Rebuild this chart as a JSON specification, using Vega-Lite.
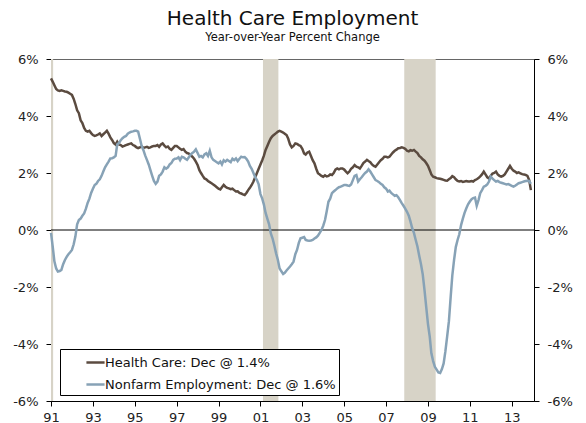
{
"$schema": "https://vega.github.io/schema/vega-lite/v6.json",
"width": 483, "height": 342,
"autosize": {"type": "none"},
"padding": {"left": 51, "top": 59, "right": 52, "bottom": 22},
"background": "white",
"title": {"text": "Health Care Employment", "subtitle": "Year-over-Year Percent Change", "font": "DejaVu Sans", "fontSize": 20, "fontWeight": "normal", "color": "#111", "subtitleFont": "DejaVu Sans", "subtitleFontSize": 11.5, "subtitleColor": "#111", "anchor": "middle", "offset": 10, "subtitlePadding": 3},
"config": {
  "font": "DejaVu Sans",
  "view": {"stroke": "#666", "strokeWidth": 1},
  "axis": {"grid": false, "domainColor": "#000", "tickColor": "#000", "labelColor": "#222", "labelFontSize": 13, "labelFont": "DejaVu Sans", "title": null},
  "legend": {"orient": "none", "legendX": 9, "legendY": 290, "strokeColor": "#000", "fillColor": "white", "padding": 3, "symbolType": "stroke", "symbolStrokeWidth": 2.5, "symbolSize": 330, "symbolOffset": 22, "labelOffset": -1, "labelFontSize": 13, "labelFont": "DejaVu Sans", "labelColor": "#111", "labelLimit": 400, "rowPadding": 4, "title": null}
},
"datasets": {
"rec": [{"s": "1991-01-01", "e": "1991-02-07"}, {"s": "2001-02-14", "e": "2001-11-10"}, {"s": "2007-11-14", "e": "2009-05-15"}],
"emp": [
{"d":"1991-01","h":5.32,"n":-0.1},{"d":"1991-02","h":5.2,"n":-0.6},{"d":"1991-03","h":5.08,"n":-1.1},{"d":"1991-04","h":4.95,"n":-1.35},{"d":"1991-05","h":4.9,"n":-1.46},{"d":"1991-06","h":4.88,"n":-1.44},{"d":"1991-07","h":4.9,"n":-1.4},{"d":"1991-08","h":4.88,"n":-1.2},{"d":"1991-09","h":4.86,"n":-1.05},{"d":"1991-10","h":4.85,"n":-0.94},{"d":"1991-11","h":4.82,"n":-0.85},{"d":"1991-12","h":4.78,"n":-0.78},
{"d":"1992-01","h":4.74,"n":-0.7},{"d":"1992-02","h":4.6,"n":-0.5},{"d":"1992-03","h":4.42,"n":-0.23},{"d":"1992-04","h":4.2,"n":0.2},{"d":"1992-05","h":4.1,"n":0.35},{"d":"1992-06","h":3.85,"n":0.4},{"d":"1992-07","h":3.75,"n":0.5},{"d":"1992-08","h":3.58,"n":0.58},{"d":"1992-09","h":3.48,"n":0.75},{"d":"1992-10","h":3.45,"n":0.95},{"d":"1992-11","h":3.48,"n":1.1},{"d":"1992-12","h":3.4,"n":1.3},
{"d":"1993-01","h":3.33,"n":1.45},{"d":"1993-02","h":3.3,"n":1.58},{"d":"1993-03","h":3.32,"n":1.62},{"d":"1993-04","h":3.35,"n":1.72},{"d":"1993-05","h":3.39,"n":1.78},{"d":"1993-06","h":3.3,"n":1.9},{"d":"1993-07","h":3.36,"n":2.05},{"d":"1993-08","h":3.42,"n":2.2},{"d":"1993-09","h":3.48,"n":2.3},{"d":"1993-10","h":3.38,"n":2.4},{"d":"1993-11","h":3.25,"n":2.51},{"d":"1993-12","h":3.16,"n":2.52},
{"d":"1994-01","h":3.05,"n":2.55},{"d":"1994-02","h":3.0,"n":2.6},{"d":"1994-03","h":3.1,"n":3.0},{"d":"1994-04","h":3.0,"n":3.05},{"d":"1994-05","h":2.98,"n":3.15},{"d":"1994-06","h":2.93,"n":3.22},{"d":"1994-07","h":2.95,"n":3.27},{"d":"1994-08","h":2.98,"n":3.3},{"d":"1994-09","h":3.0,"n":3.38},{"d":"1994-10","h":3.02,"n":3.42},{"d":"1994-11","h":3.04,"n":3.45},{"d":"1994-12","h":2.98,"n":3.46},
{"d":"1995-01","h":2.95,"n":3.48},{"d":"1995-02","h":2.9,"n":3.48},{"d":"1995-03","h":2.87,"n":3.45},{"d":"1995-04","h":2.9,"n":3.2},{"d":"1995-05","h":2.93,"n":2.95},{"d":"1995-06","h":2.88,"n":2.8},{"d":"1995-07","h":2.9,"n":2.62},{"d":"1995-08","h":2.92,"n":2.46},{"d":"1995-09","h":2.88,"n":2.3},{"d":"1995-10","h":2.9,"n":2.1},{"d":"1995-11","h":2.93,"n":1.9},{"d":"1995-12","h":2.95,"n":1.72},
{"d":"1996-01","h":2.95,"n":1.62},{"d":"1996-02","h":2.98,"n":1.7},{"d":"1996-03","h":2.92,"n":1.9},{"d":"1996-04","h":3.0,"n":1.95},{"d":"1996-05","h":3.04,"n":2.05},{"d":"1996-06","h":2.96,"n":2.2},{"d":"1996-07","h":2.9,"n":2.15},{"d":"1996-08","h":2.93,"n":2.2},{"d":"1996-09","h":2.85,"n":2.3},{"d":"1996-10","h":2.81,"n":2.35},{"d":"1996-11","h":2.88,"n":2.46},{"d":"1996-12","h":2.95,"n":2.5},
{"d":"1997-01","h":2.95,"n":2.51},{"d":"1997-02","h":2.9,"n":2.55},{"d":"1997-03","h":2.85,"n":2.45},{"d":"1997-04","h":2.81,"n":2.57},{"d":"1997-05","h":2.84,"n":2.55},{"d":"1997-06","h":2.75,"n":2.5},{"d":"1997-07","h":2.7,"n":2.46},{"d":"1997-08","h":2.68,"n":2.55},{"d":"1997-09","h":2.62,"n":2.65},{"d":"1997-10","h":2.57,"n":2.7},{"d":"1997-11","h":2.5,"n":2.75},{"d":"1997-12","h":2.4,"n":2.83},
{"d":"1998-01","h":2.28,"n":2.7},{"d":"1998-02","h":2.1,"n":2.57},{"d":"1998-03","h":2.0,"n":2.6},{"d":"1998-04","h":1.9,"n":2.55},{"d":"1998-05","h":1.81,"n":2.65},{"d":"1998-06","h":1.78,"n":2.69},{"d":"1998-07","h":1.72,"n":2.6},{"d":"1998-08","h":1.68,"n":2.78},{"d":"1998-09","h":1.64,"n":2.55},{"d":"1998-10","h":1.6,"n":2.46},{"d":"1998-11","h":1.55,"n":2.42},{"d":"1998-12","h":1.5,"n":2.38},
{"d":"1999-01","h":1.45,"n":2.34},{"d":"1999-02","h":1.42,"n":2.4},{"d":"1999-03","h":1.5,"n":2.3},{"d":"1999-04","h":1.58,"n":2.45},{"d":"1999-05","h":1.52,"n":2.4},{"d":"1999-06","h":1.48,"n":2.46},{"d":"1999-07","h":1.46,"n":2.42},{"d":"1999-08","h":1.43,"n":2.38},{"d":"1999-09","h":1.45,"n":2.5},{"d":"1999-10","h":1.4,"n":2.45},{"d":"1999-11","h":1.35,"n":2.51},{"d":"1999-12","h":1.36,"n":2.42},
{"d":"2000-01","h":1.3,"n":2.5},{"d":"2000-02","h":1.28,"n":2.57},{"d":"2000-03","h":1.25,"n":2.55},{"d":"2000-04","h":1.23,"n":2.56},{"d":"2000-05","h":1.3,"n":2.5},{"d":"2000-06","h":1.4,"n":2.4},{"d":"2000-07","h":1.48,"n":2.25},{"d":"2000-08","h":1.58,"n":2.15},{"d":"2000-09","h":1.7,"n":2.0},{"d":"2000-10","h":1.85,"n":1.85},{"d":"2000-11","h":2.0,"n":1.75},{"d":"2000-12","h":2.15,"n":1.6},
{"d":"2001-01","h":2.3,"n":1.26},{"d":"2001-02","h":2.45,"n":1.1},{"d":"2001-03","h":2.6,"n":0.9},{"d":"2001-04","h":2.81,"n":0.6},{"d":"2001-05","h":2.95,"n":0.4},{"d":"2001-06","h":3.1,"n":0.2},{"d":"2001-07","h":3.22,"n":-0.12},{"d":"2001-08","h":3.3,"n":-0.3},{"d":"2001-09","h":3.35,"n":-0.55},{"d":"2001-10","h":3.4,"n":-0.82},{"d":"2001-11","h":3.45,"n":-1.05},{"d":"2001-12","h":3.48,"n":-1.35},
{"d":"2002-01","h":3.45,"n":-1.45},{"d":"2002-02","h":3.42,"n":-1.54},{"d":"2002-03","h":3.38,"n":-1.5},{"d":"2002-04","h":3.33,"n":-1.42},{"d":"2002-05","h":3.2,"n":-1.35},{"d":"2002-06","h":3.0,"n":-1.28},{"d":"2002-07","h":2.9,"n":-1.2},{"d":"2002-08","h":2.95,"n":-1.11},{"d":"2002-09","h":3.04,"n":-0.85},{"d":"2002-10","h":3.02,"n":-0.7},{"d":"2002-11","h":2.98,"n":-0.45},{"d":"2002-12","h":2.95,"n":-0.29},
{"d":"2003-01","h":2.85,"n":-0.27},{"d":"2003-02","h":2.69,"n":-0.25},{"d":"2003-03","h":2.65,"n":-0.35},{"d":"2003-04","h":2.72,"n":-0.37},{"d":"2003-05","h":2.75,"n":-0.38},{"d":"2003-06","h":2.6,"n":-0.37},{"d":"2003-07","h":2.45,"n":-0.35},{"d":"2003-08","h":2.34,"n":-0.3},{"d":"2003-09","h":2.15,"n":-0.26},{"d":"2003-10","h":1.99,"n":-0.2},{"d":"2003-11","h":1.95,"n":-0.1},{"d":"2003-12","h":1.9,"n":0.0},
{"d":"2004-01","h":1.87,"n":0.15},{"d":"2004-02","h":1.92,"n":0.35},{"d":"2004-03","h":1.88,"n":0.65},{"d":"2004-04","h":1.9,"n":0.99},{"d":"2004-05","h":1.95,"n":1.1},{"d":"2004-06","h":1.93,"n":1.29},{"d":"2004-07","h":2.0,"n":1.35},{"d":"2004-08","h":2.12,"n":1.4},{"d":"2004-09","h":2.16,"n":1.46},{"d":"2004-10","h":2.13,"n":1.5},{"d":"2004-11","h":2.16,"n":1.52},{"d":"2004-12","h":2.16,"n":1.55},
{"d":"2005-01","h":2.12,"n":1.58},{"d":"2005-02","h":2.05,"n":1.58},{"d":"2005-03","h":1.99,"n":1.56},{"d":"2005-04","h":2.05,"n":1.55},{"d":"2005-05","h":2.15,"n":1.6},{"d":"2005-06","h":2.2,"n":1.75},{"d":"2005-07","h":2.28,"n":1.9},{"d":"2005-08","h":2.22,"n":1.93},{"d":"2005-09","h":2.2,"n":1.7},{"d":"2005-10","h":2.16,"n":1.78},{"d":"2005-11","h":2.25,"n":1.85},{"d":"2005-12","h":2.35,"n":1.93},
{"d":"2006-01","h":2.4,"n":2.0},{"d":"2006-02","h":2.46,"n":2.05},{"d":"2006-03","h":2.42,"n":2.13},{"d":"2006-04","h":2.38,"n":2.05},{"d":"2006-05","h":2.3,"n":1.95},{"d":"2006-06","h":2.25,"n":1.85},{"d":"2006-07","h":2.22,"n":1.75},{"d":"2006-08","h":2.3,"n":1.72},{"d":"2006-09","h":2.38,"n":1.68},{"d":"2006-10","h":2.45,"n":1.62},{"d":"2006-11","h":2.5,"n":1.58},{"d":"2006-12","h":2.57,"n":1.5},
{"d":"2007-01","h":2.57,"n":1.45},{"d":"2007-02","h":2.55,"n":1.35},{"d":"2007-03","h":2.57,"n":1.38},{"d":"2007-04","h":2.65,"n":1.3},{"d":"2007-05","h":2.72,"n":1.25},{"d":"2007-06","h":2.78,"n":1.2},{"d":"2007-07","h":2.82,"n":1.22},{"d":"2007-08","h":2.87,"n":1.15},{"d":"2007-09","h":2.88,"n":1.05},{"d":"2007-10","h":2.9,"n":0.94},{"d":"2007-11","h":2.88,"n":0.85},{"d":"2007-12","h":2.85,"n":0.75},
{"d":"2008-01","h":2.78,"n":0.64},{"d":"2008-02","h":2.76,"n":0.5},{"d":"2008-03","h":2.8,"n":0.3},{"d":"2008-04","h":2.78,"n":0.06},{"d":"2008-05","h":2.81,"n":-0.1},{"d":"2008-06","h":2.75,"n":-0.35},{"d":"2008-07","h":2.7,"n":-0.58},{"d":"2008-08","h":2.6,"n":-0.9},{"d":"2008-09","h":2.55,"n":-1.2},{"d":"2008-10","h":2.48,"n":-1.55},{"d":"2008-11","h":2.43,"n":-2.1},{"d":"2008-12","h":2.35,"n":-2.7},
{"d":"2009-01","h":2.25,"n":-3.3},{"d":"2009-02","h":2.1,"n":-3.75},{"d":"2009-03","h":1.95,"n":-4.33},{"d":"2009-04","h":1.87,"n":-4.6},{"d":"2009-05","h":1.85,"n":-4.8},{"d":"2009-06","h":1.82,"n":-4.9},{"d":"2009-07","h":1.81,"n":-5.0},{"d":"2009-08","h":1.8,"n":-5.02},{"d":"2009-09","h":1.78,"n":-4.88},{"d":"2009-10","h":1.76,"n":-4.68},{"d":"2009-11","h":1.74,"n":-4.25},{"d":"2009-12","h":1.73,"n":-3.74},
{"d":"2010-01","h":1.78,"n":-3.2},{"d":"2010-02","h":1.82,"n":-2.34},{"d":"2010-03","h":1.89,"n":-1.6},{"d":"2010-04","h":1.85,"n":-1.05},{"d":"2010-05","h":1.78,"n":-0.6},{"d":"2010-06","h":1.72,"n":-0.35},{"d":"2010-07","h":1.7,"n":-0.15},{"d":"2010-08","h":1.72,"n":0.17},{"d":"2010-09","h":1.69,"n":0.4},{"d":"2010-10","h":1.7,"n":0.6},{"d":"2010-11","h":1.72,"n":0.76},{"d":"2010-12","h":1.7,"n":0.9},
{"d":"2011-01","h":1.7,"n":1.0},{"d":"2011-02","h":1.72,"n":1.08},{"d":"2011-03","h":1.7,"n":1.12},{"d":"2011-04","h":1.75,"n":1.14},{"d":"2011-05","h":1.78,"n":0.85},{"d":"2011-06","h":1.82,"n":1.05},{"d":"2011-07","h":1.88,"n":1.29},{"d":"2011-08","h":1.95,"n":1.4},{"d":"2011-09","h":2.05,"n":1.52},{"d":"2011-10","h":1.95,"n":1.55},{"d":"2011-11","h":1.85,"n":1.6},{"d":"2011-12","h":1.81,"n":1.7},
{"d":"2012-01","h":1.9,"n":1.87},{"d":"2012-02","h":1.98,"n":1.8},{"d":"2012-03","h":2.0,"n":1.75},{"d":"2012-04","h":2.05,"n":1.7},{"d":"2012-05","h":1.95,"n":1.72},{"d":"2012-06","h":1.9,"n":1.68},{"d":"2012-07","h":1.87,"n":1.66},{"d":"2012-08","h":1.9,"n":1.64},{"d":"2012-09","h":1.95,"n":1.62},{"d":"2012-10","h":2.05,"n":1.6},{"d":"2012-11","h":2.15,"n":1.61},{"d":"2012-12","h":2.25,"n":1.58},
{"d":"2013-01","h":2.15,"n":1.55},{"d":"2013-02","h":2.08,"n":1.52},{"d":"2013-03","h":2.05,"n":1.55},{"d":"2013-04","h":2.0,"n":1.6},{"d":"2013-05","h":2.02,"n":1.64},{"d":"2013-06","h":1.99,"n":1.66},{"d":"2013-07","h":1.96,"n":1.68},{"d":"2013-08","h":1.95,"n":1.7},{"d":"2013-09","h":1.93,"n":1.72},{"d":"2013-10","h":1.9,"n":1.73},{"d":"2013-11","h":1.75,"n":1.72},{"d":"2013-12","h":1.4,"n":1.62}
]
},
"layer": [
{"data": {"name": "rec"}, "mark": {"type": "rect", "color": "#D7D3C7"},
 "encoding": {
  "x": {"field": "s", "type": "temporal", "scale": {"domain": [{"year": 1991, "month": 1, "date": 1}, {"year": 2014, "month": 1, "date": 24}]},
   "axis": {"values": [{"year":1991,"month":1,"date":1},{"year":1992,"month":1,"date":1},{"year":1993,"month":1,"date":1},{"year":1994,"month":1,"date":1},{"year":1995,"month":1,"date":1},{"year":1996,"month":1,"date":1},{"year":1997,"month":1,"date":1},{"year":1998,"month":1,"date":1},{"year":1999,"month":1,"date":1},{"year":2000,"month":1,"date":1},{"year":2001,"month":1,"date":1},{"year":2002,"month":1,"date":1},{"year":2003,"month":1,"date":1},{"year":2004,"month":1,"date":1},{"year":2005,"month":1,"date":1},{"year":2006,"month":1,"date":1},{"year":2007,"month":1,"date":1},{"year":2008,"month":1,"date":1},{"year":2009,"month":1,"date":1},{"year":2010,"month":1,"date":1},{"year":2011,"month":1,"date":1},{"year":2012,"month":1,"date":1},{"year":2013,"month":1,"date":1}],
    "labelExpr": "year(datum.value) % 2 == 1 ? timeFormat(datum.value, '%y') : ''", "tickSize": 5, "labelPadding": 5, "labelFlush": false, "labelOverlap": false, "title": null}},
  "x2": {"field": "e"}
 }},
{"data": {"values": [{"z": 0}]}, "mark": {"type": "rule", "color": "#000", "strokeWidth": 1},
 "encoding": {"y": {"field": "z", "type": "quantitative", "scale": {"domain": [-6, 6], "nice": false}, "axis": null}}},
{"data": {"name": "emp"}, "mark": {"type": "line", "strokeWidth": 2.5},
 "encoding": {
  "x": {"field": "d", "type": "temporal", "title": null},
  "y": {"field": "h", "type": "quantitative", "axis": {"orient": "left", "values": [-6, -4, -2, 0, 2, 4, 6], "labelExpr": "datum.value + '%'", "tickSize": 5, "labelPadding": 8, "title": null}},
  "color": {"datum": "Health Care: Dec @ 1.4%", "type": "nominal", "scale": {"domain": ["Health Care: Dec @ 1.4%", "Nonfarm Employment: Dec @ 1.6%"], "range": ["#5B4B40", "#87A2B6"]},
   "legend": {"title": "\u2003\u2003", "titleOrient": "right", "titleFontSize": 13, "titlePadding": 0, "titleAnchor": "start"}}
 }},
{"data": {"name": "emp"}, "mark": {"type": "line", "strokeWidth": 2.5},
 "encoding": {
  "x": {"field": "d", "type": "temporal", "title": null},
  "y": {"field": "n", "type": "quantitative", "axis": {"orient": "right", "values": [-6, -4, -2, 0, 2, 4, 6], "labelExpr": "datum.value + '%'", "tickSize": 5, "labelPadding": 8, "title": null}},
  "color": {"datum": "Nonfarm Employment: Dec @ 1.6%", "type": "nominal"}
 }}
],
"resolve": {"axis": {"y": "independent"}}
}
